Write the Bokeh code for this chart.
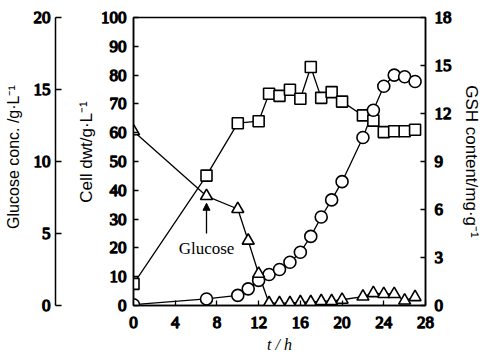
from bokeh.plotting import figure
from bokeh.models import Range1d, LinearAxis, FixedTicker, Arrow, NormalHead, Label
from bokeh.embed import file_html
from bokeh.resources import INLINE

# ---- data ----
hours_cell = [0, 7, 10, 12, 13, 14, 15, 16, 17, 18, 19, 20, 22, 23, 24, 25, 26, 27]
cell_dwt = [7.5, 45.1, 63.3, 64.0, 73.5, 72.8, 74.9, 71.8, 82.8, 72.1, 74.1, 70.8,
            66.0, 64.2, 60.2, 60.5, 60.5, 61.0]

hours_gsh = [0, 7, 10, 11, 12, 13, 14, 15, 16, 17, 18, 19, 20, 22, 23, 24, 25, 26, 27]
gsh_content = [0.05, 0.41, 0.63, 1.04, 1.57, 1.94, 2.25, 2.70, 3.33, 4.32, 5.53, 6.60,
               7.74, 10.5, 12.2, 13.7, 14.4, 14.3, 14.0]

hours_glu = [0, 7, 10, 11, 12, 13, 14, 15, 16, 17, 18, 19, 20, 22, 23, 24, 25, 26, 27]
glucose = [12.1, 7.6, 6.7, 4.5, 2.2, 0.16, 0.16, 0.16, 0.23, 0.23, 0.30, 0.30, 0.40,
           0.62, 0.86, 0.80, 0.80, 0.34, 0.58]

x_ticks = [0, 4, 8, 12, 16, 20, 24, 28]
cell_ticks = [0, 10, 20, 30, 40, 50, 60, 70, 80, 90, 100]
glu_ticks = [0, 5, 10, 15, 20]
gsh_ticks = [0, 3, 6, 9, 12, 15, 18]

SERIF = "Liberation Serif"
SANS = "Liberation Sans"
TICK_SIZE = "17px"
NB = "\u00a0"

p = figure(width=483, height=363, x_range=Range1d(0, 28), y_range=Range1d(0, 100),
           output_backend="svg", toolbar_location=None,
           min_border_left=133, min_border_right=58, min_border_top=17, min_border_bottom=58)
p.extra_y_ranges = {"glu": Range1d(0, 20), "gsh": Range1d(0, 18)}
p.xgrid.visible = False
p.ygrid.visible = False
p.outline_line_color = "black"
p.outline_line_width = 1.5
p.background_fill_color = "white"
p.border_fill_color = "white"


def style_axis(ax, ticks, title_size="16px"):
    ax.ticker = FixedTicker(ticks=ticks)
    ax.axis_line_color = "black"
    ax.axis_line_width = 1.5
    ax.major_tick_line_color = "black"
    ax.major_tick_line_width = 1.3
    ax.major_tick_in = 5
    ax.major_tick_out = 0
    ax.minor_tick_line_color = None
    ax.major_label_text_font = SERIF
    ax.major_label_text_font_style = "normal"
    ax.major_label_text_font_size = TICK_SIZE
    ax.major_label_text_color = "black"
    ax.major_label_text_outline_color = "black"
    ax.axis_label_text_color = "black"
    ax.axis_label_text_font = SANS
    ax.axis_label_text_font_style = "normal"
    ax.axis_label_text_font_size = title_size


# x axis
xa = p.xaxis[0]
style_axis(xa, x_ticks)
xa.major_label_standoff = 11
xa.axis_label = "t / h"
xa.axis_label_text_font = SERIF
xa.axis_label_text_font_style = "italic"
xa.axis_label_standoff = 5

# cell dwt axis (default left)
ya = p.yaxis[0]
style_axis(ya, cell_ticks, "17px")
ya.major_label_standoff = 7
ya.axis_label = NB * 4 + "Cell dwt/g·L⁻¹"
ya.axis_label_standoff = 2

# spacer between cell axis and glucose axis
spacer = LinearAxis(y_range_name="glu", ticker=FixedTicker(ticks=[0]),
                    axis_line_color=None, major_tick_line_color=None,
                    minor_tick_line_color=None, major_tick_in=0, major_tick_out=18,
                    major_label_text_font_size="1px", major_label_text_color=None,
                    major_label_standoff=0)
p.add_layout(spacer, "left")

# glucose axis
ga = LinearAxis(y_range_name="glu")
style_axis(ga, glu_ticks, "16px")
ga.major_tick_in = 6
ga.major_label_standoff = 5
ga.axis_label = NB * 2 + "Glucose conc. /g·L⁻¹"
ga.axis_label_standoff = 9
p.add_layout(ga, "left")

# GSH axis
ra = LinearAxis(y_range_name="gsh")
style_axis(ra, gsh_ticks, "17px")
ra.major_label_standoff = 9
ra.axis_label = "GSH content/mg·g⁻¹"
ra.axis_label_standoff = 7
ra.axis_label_orientation = "vertical"
p.add_layout(ra, "right")

# series
p.line(hours_cell, cell_dwt, line_color="black", line_width=1.3)
p.line(hours_gsh, gsh_content, line_color="black", line_width=1.3, y_range_name="gsh")
p.line(hours_glu, glucose, line_color="black", line_width=1.3, y_range_name="glu")

p.scatter(hours_cell, cell_dwt, marker="square", size=11, fill_color="white",
          line_color="black", line_width=1.6)
p.scatter(hours_gsh, gsh_content, marker="circle", size=12, fill_color="white",
          line_color="black", line_width=1.6, y_range_name="gsh")
p.scatter(hours_glu, glucose, marker="triangle", size=12, fill_color="white",
          line_color="black", line_width=1.6, y_range_name="glu")

# annotation
p.add_layout(Arrow(end=NormalHead(size=7, fill_color="black", line_color="black"),
                   x_start=7, y_start=25, x_end=7, y_end=35.5,
                   line_color="black", line_width=1.3))
p.add_layout(Label(x=7, y=19.8, text="Glucose", text_align="center",
                   text_baseline="middle", text_font=SERIF,
                   text_font_size="17px", text_color="black"))

open("out.html", "w").write(file_html(p, INLINE))
